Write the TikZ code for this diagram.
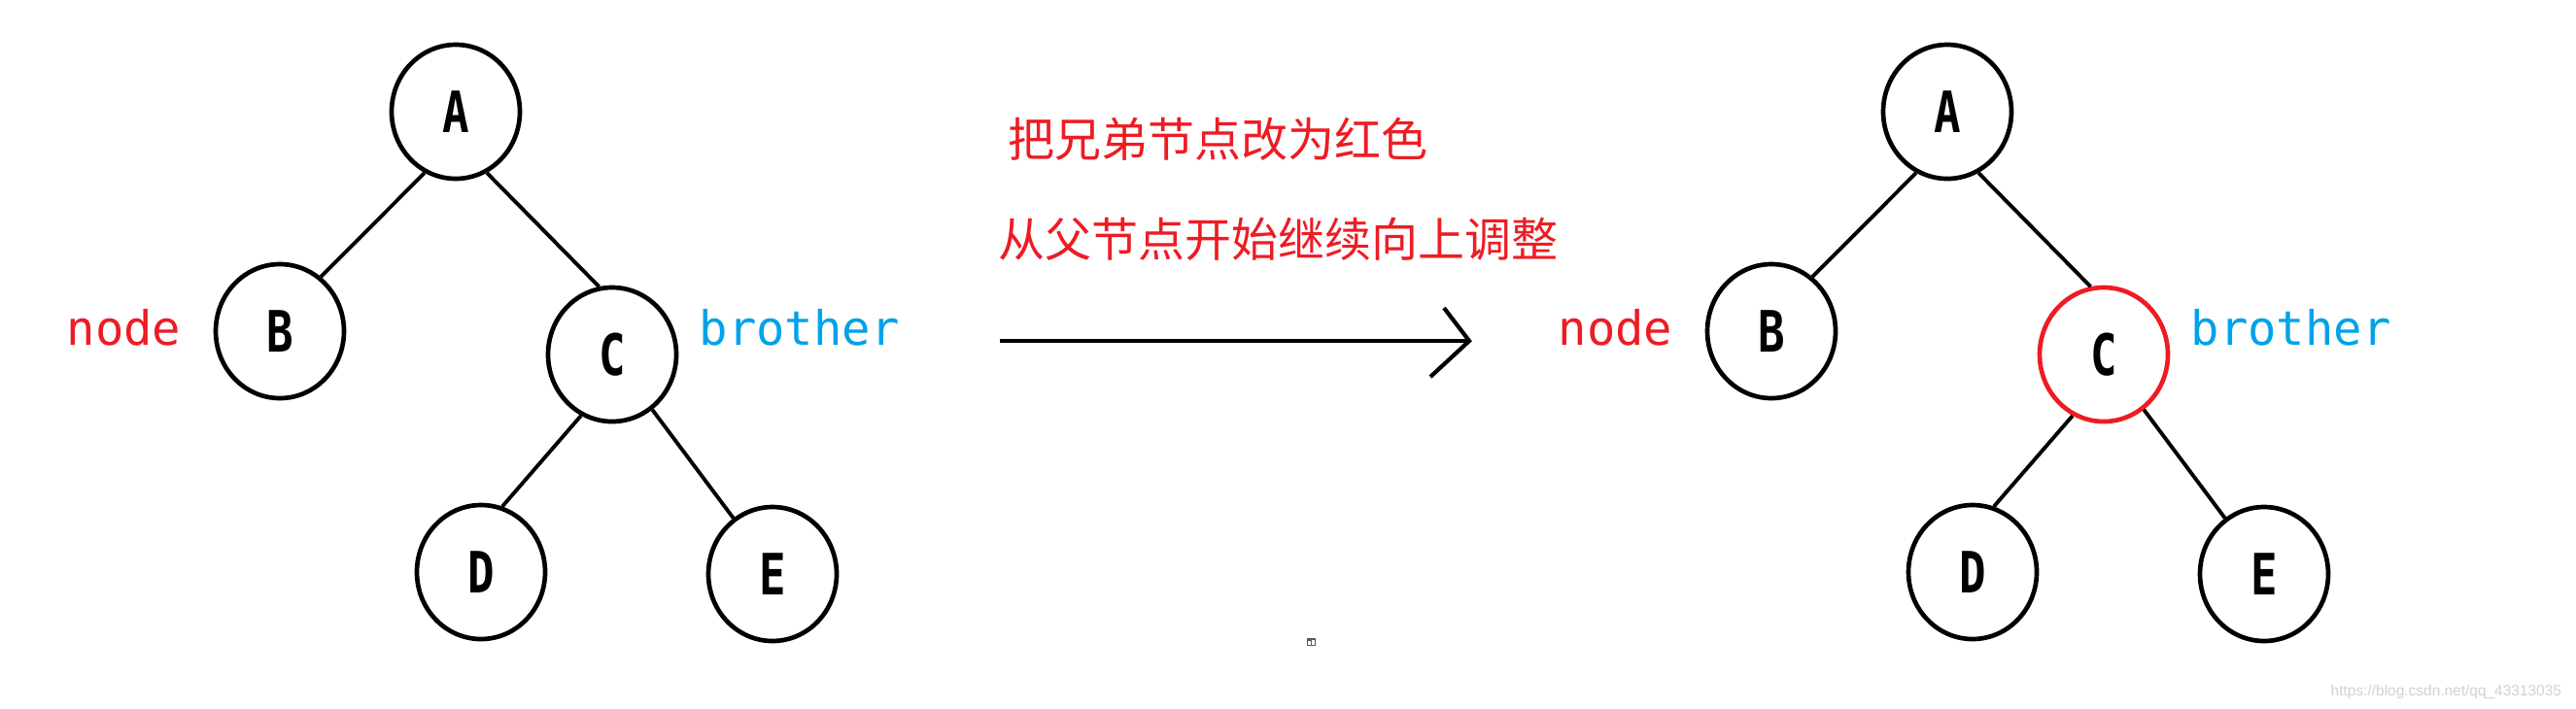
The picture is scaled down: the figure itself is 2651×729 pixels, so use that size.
\documentclass[tikz,border=0pt]{standalone}
\usepackage{fontspec}
\usepackage{graphicx}
\setmainfont{DejaVu Sans}
\newfontfamily\monofnt{DejaVu Sans Mono}
\newfontfamily\cjkfnt{Noto Sans CJK SC}
\newfontfamily\wmfnt{Liberation Sans}
\usetikzlibrary{shapes.geometric}
\definecolor{pred}{RGB}{237,28,36}
\definecolor{pblue}{RGB}{0,162,232}
\newcommand{\narrowletter}[1]{\scalebox{0.82}[1.05]{#1}}
\begin{document}
\begin{tikzpicture}[x=0.1mm,y=-0.1mm,
  tnode/.style={draw, ellipse, line width=1.33pt, minimum width=13.2mm, minimum height=13.8mm, inner sep=0pt,
    font=\monofnt\bfseries\fontsize{15.9}{16}\selectfont},
  edge/.style={line width=1.1pt},
  lbl/.style={inner sep=0pt, anchor=base west, font=\monofnt\fontsize{13.9}{14}\selectfont},
  cjk/.style={inner sep=0pt, anchor=west, text=pred, font=\cjkfnt\fontsize{13.66}{14}\selectfont},
  arr/.style={line width=1.2pt}]
\useasboundingbox (0,0) rectangle (2651,729);
% tree 1
\node[tnode] (a1) at (469,115) {\narrowletter{A}};
\node[tnode] (b1) at (288,341) {\narrowletter{B}};
\node[tnode] (c1) at (630,365) {\narrowletter{C}};
\node[tnode] (d1) at (495,589) {\narrowletter{D}};
\node[tnode] (e1) at (795,591) {\narrowletter{E}};
\draw[edge] (a1.243) -- (b1.53);
\draw[edge] (a1.297) -- (c1.101);
\draw[edge] (c1.243) -- (d1.72);
\draw[edge] (c1.306) -- (e1.125);
\node[lbl, text=pred] (n1) at (68,355) {node};
\node[lbl, text=pblue] (br1) at (719,355) {brother};
% middle
\node[cjk] (t1) at (1037,143) {把兄弟节点改为红色};
\node[cjk] (t2) at (1027,246) {从父节点开始继续向上调整};
\coordinate (arrS) at (1029,351);
\coordinate (arrE) at (1512,351);
\draw[arr] (arrS) -- (arrE);
\draw[arr, line join=miter] (arrE) ++(-26,-34) -- (arrE) -- ++(-40,37);
% tree 2
\node[tnode] (a2) at (2004,115) {\narrowletter{A}};
\node[tnode] (b2) at (1823,341) {\narrowletter{B}};
\node[tnode, draw=pred] (c2) at (2165,365) {\narrowletter{C}};
\node[tnode] (d2) at (2030,589) {\narrowletter{D}};
\node[tnode] (e2) at (2330,591) {\narrowletter{E}};
\draw[edge] (a2.243) -- (b2.53);
\draw[edge] (a2.297) -- (c2.101);
\draw[edge] (c2.243) -- (d2.72);
\draw[edge] (c2.306) -- (e2.125);
\node[lbl, text=pred] (n2) at (1603,355) {node};
\node[lbl, text=pblue] (br2) at (2254,355) {brother};
% small icon
\fill[black!65] (1345,657) rectangle (1354,665);
\fill[white] (1346,660) rectangle (1349,664);
\fill[white] (1350,659) rectangle (1353,664);
% watermark
\node[inner sep=0pt, anchor=base west, text=black!18, font=\wmfnt\fontsize{4.4}{5}\selectfont] (wm) at (2398,716) {https://blog.csdn.net/qq\_43313035};
\end{tikzpicture}
\end{document}
